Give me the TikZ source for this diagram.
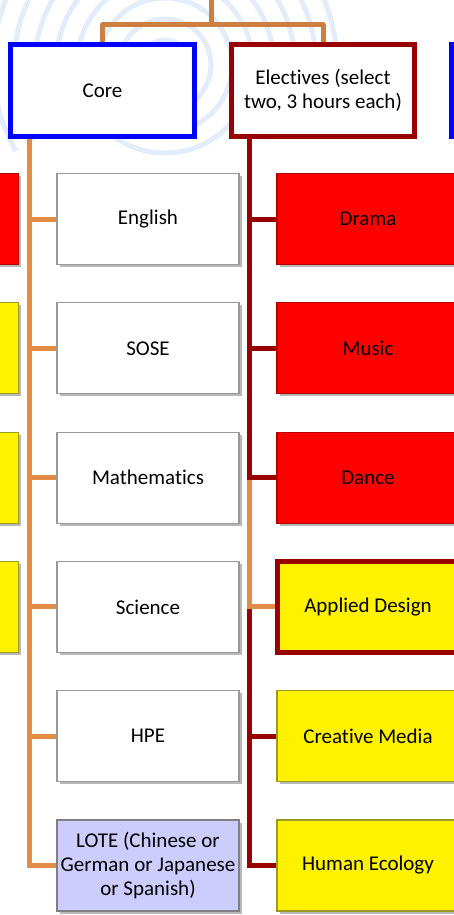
\documentclass[tikz,border=0pt]{standalone}
\usepackage{fontspec}
\setmainfont{Carlito}[Ligatures=NoCommon]
\usetikzlibrary{shadows}
\definecolor{dred}{HTML}{990000}
\definecolor{orng}{HTML}{E38C45}
\definecolor{topc}{HTML}{CC7F3F}
\definecolor{lilac}{HTML}{CCCCFF}
\definecolor{swirl}{HTML}{E3ECF9}
\definecolor{boxgray}{HTML}{999999}
\definecolor{redborder}{HTML}{B00000}
\definecolor{yelborder}{HTML}{9A9A20}
\pgfdeclarelayer{backdrop}
\pgfdeclarelayer{background}
\pgfsetlayers{backdrop,background,main}
\begin{document}
\begin{tikzpicture}[x=1pt,y=-1pt,
  every node/.style={font=\fontsize{21}{24}\selectfont, align=center, inner sep=0pt},
  shad/.style={drop shadow={shadow xshift=2.5pt,shadow yshift=-2.5pt,opacity=0.28,fill=black}},
  corebox/.style={rectangle, draw=blue, line width=5pt, fill=white, minimum width=184pt, minimum height=92pt, shad},
  elecbox/.style={rectangle, draw=dred, line width=5pt, fill=white, minimum width=183.6pt, minimum height=92pt, shad},
  childbox/.style={rectangle, draw=boxgray, line width=1.2pt, fill=white, minimum width=182pt, minimum height=91pt, shad},
  redbox/.style={childbox, fill=red, draw=redborder},
  yelbox/.style={childbox, fill=yellow, draw=yelborder},
  lotebox/.style={childbox, fill=lilac, draw=gray},
  appbox/.style={childbox, fill=yellow, draw=dred, line width=5pt},
  topline/.style={draw=topc, line width=5pt},
  coreline/.style={draw=orng, line width=5pt},
  redline/.style={draw=dred, line width=5pt}
]
\clip (0,0) rectangle (454,915);
\begin{pgfonlayer}{backdrop}
  \fill[white] (0,0) rectangle (454,915);
  \foreach \r in {25,46,67,88}
    \draw[swirl, line width=5pt] (165,65) circle[radius=\r];
  \foreach \r in {109,130,151,172}
    \draw[swirl, line width=5pt] (165,65) ++(150:\r) arc[start angle=150, end angle=385, radius=\r];
\end{pgfonlayer}

% top level
\node[corebox] (core) at (102.5,90.3) {Core};
\node[elecbox] (elec) at (323,90.3) {Electives (select\\two, 3 hours each)};
\node[corebox] (rblue) at (543.5,90.3) {};

% core children
\node[childbox] (english) at (148,219) {English};
\node[childbox] (sose) at (148,348.3) {SOSE};
\node[childbox] (math) at (148,477.6) {Mathematics};
\node[childbox] (science) at (148,606.9) {Science};
\node[childbox] (hpe) at (148,736.2) {HPE};
\node[lotebox] (lote) at (148,865.5) {LOTE (Chinese or\\German or Japanese\\or Spanish)};

% elective children
\node[redbox] (drama) at (368,219) {Drama};
\node[redbox] (music) at (368,348.3) {Music};
\node[redbox] (dance) at (368,477.6) {Dance};
\node[appbox] (applied) at (368,606.9) {Applied Design};
\node[yelbox] (creative) at (368,736.2) {Creative Media};
\node[yelbox] (human) at (368,865.5) {Human Ecology};

% partial boxes on the left
\node[redbox] (lred) at (-72.3,219) {};
\node[yelbox] (lyel1) at (-72.3,348.3) {};
\node[yelbox] (lyel2) at (-72.3,477.6) {};
\node[yelbox] (lyel3) at (-72.3,606.9) {};

\begin{pgfonlayer}{background}
  \coordinate (top) at (211.5,0);
  \coordinate (hub) at (211.5,25);
  \coordinate (cl) at (29,0);
  \coordinate (el) at (249.5,0);
  \draw[topline] (top) -- (hub);
  \draw[topline, line join=round] (core.north) |- (hub) -| (elec.north);
  % core connectors
  \draw[coreline] (core.south -| cl) |- (lote.west);
  \foreach \n in {english,sose,math,science,hpe}
    \draw[coreline] (\n.west -| cl) -- (\n.west);
  % elective connectors
  \draw[redline] (applied.west -| el) |- (human.west);
  \draw[redline] (creative.west -| el) -- (creative.west);
  \draw[coreline] (dance.west -| el) |- (applied.west);
  \draw[redline] (elec.south -| el) |- (dance.west);
  \draw[redline] (drama.west -| el) -- (drama.west);
  \draw[redline] (music.west -| el) -- (music.west);
\end{pgfonlayer}
\end{tikzpicture}
\end{document}
